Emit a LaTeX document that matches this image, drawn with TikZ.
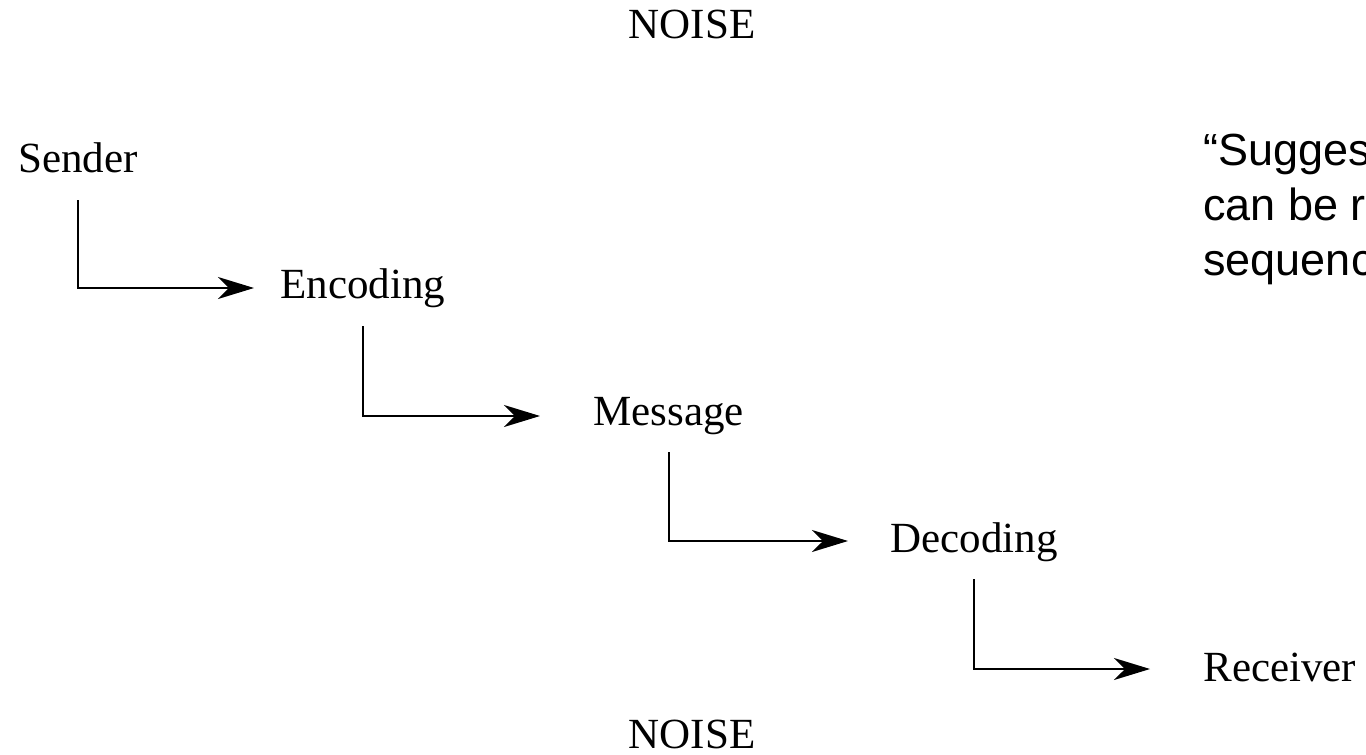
\documentclass[tikz,border=0pt]{standalone}
\usepackage{fontspec}
\setmainfont{Liberation Serif}
\newfontfamily\remarkfont{Liberation Sans}
\usetikzlibrary{arrows.meta,calc}
\begin{document}
\begin{tikzpicture}[x=0.5pt,y=-0.5pt,
  stage/.style={inner sep=0pt, anchor=base west, font=\fontsize{21.5}{26}\selectfont},
  noise/.style={inner sep=0pt, anchor=base, font=\fontsize{21.5}{26}\selectfont},
  flow/.style={line width=1pt, -{Stealth[length=18pt,width=11pt,inset=5.5pt]}},
  remark/.style={inner sep=0pt, anchor=base west, align=left,
                 font=\remarkfont\fontsize{22.5}{27.5}\selectfont}]
\fill[white] (0,0) rectangle (1366,755);
\useasboundingbox (0,0) rectangle (1366,755);

% noise above and below the chain
\node[noise] (noisetop) at (692,39) {NOISE};
\node[noise] (noisebottom) at (692,748) {NOISE};

% stages of the communication chain
\node[stage] (sender)   at (18,172)   {Sender};
\node[stage] (encoding) at (280,298)  {Encoding};
\node[stage] (message)  at (593,425)  {Message};
\node[stage] (decoding) at (890,552)  {Decoding};
\node[stage] (receiver) at (1203,681) {Receiver};

% elbow connectors between stages
\draw[flow] ($(sender.base)+(0,28)$)   |- ($(encoding.base west)+(-26,-10)$);
\draw[flow] ($(encoding.base)+(0,28)$) |- ($(message.base west)+(-53,-9)$);
\draw[flow] ($(message.base)+(0,27)$)  |- ($(decoding.base west)+(-42,-11)$);
\draw[flow] ($(decoding.base)+(0,27)$) |- ($(receiver.base west)+(-53,-12)$);

% side note running off the right edge (anchor sits on the last line)
\node[remark] (note) at (1203,275) {“Sugges\\can be r\\sequenc};
\end{tikzpicture}
\end{document}
